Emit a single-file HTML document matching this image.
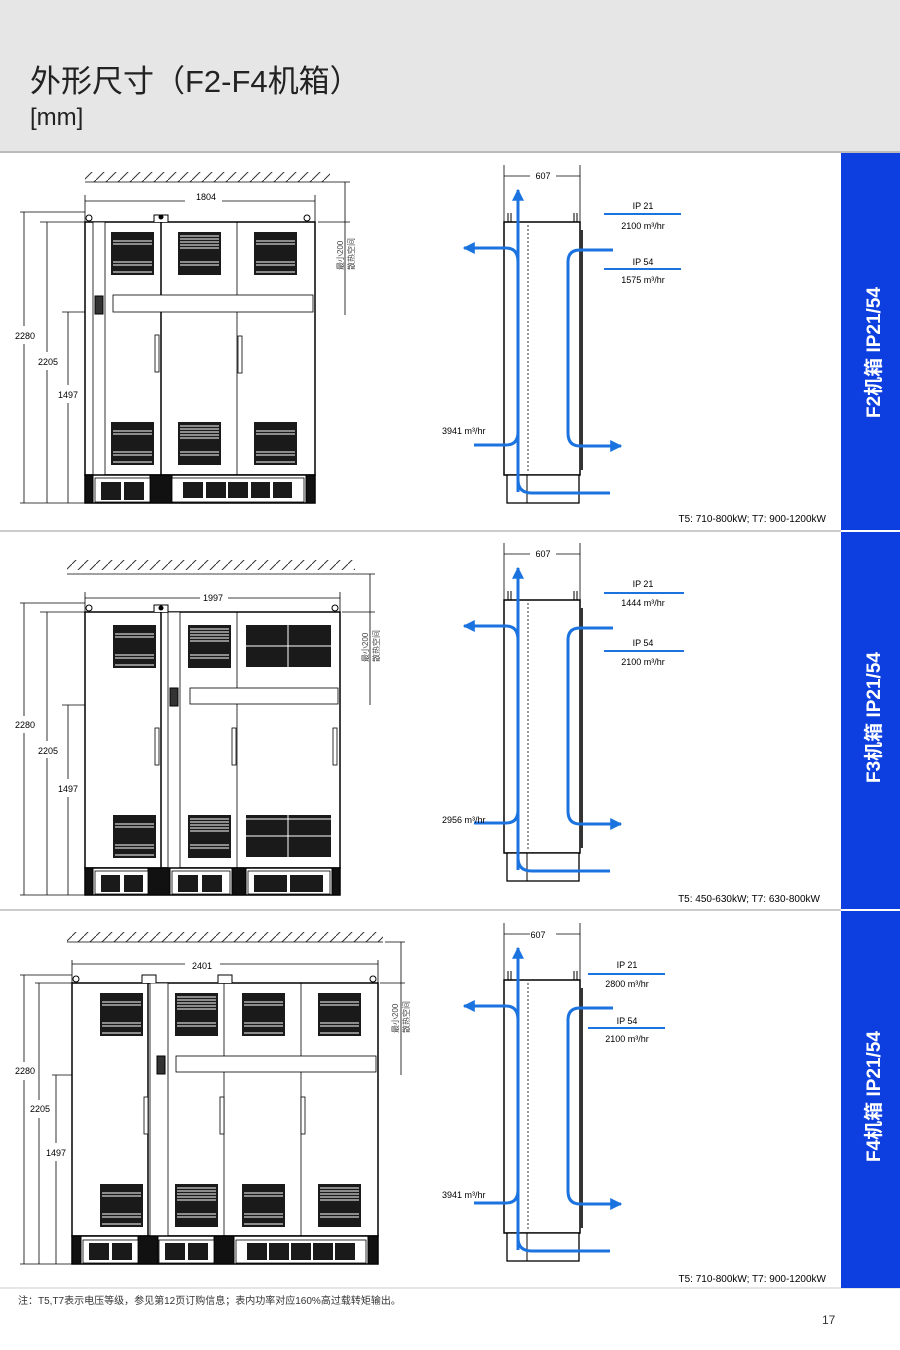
<!DOCTYPE html>
<html><head><meta charset="utf-8"><style>
html,body{margin:0;padding:0;background:#fff}
svg{display:block;font-family:"Liberation Sans","Noto Sans CJK SC",sans-serif}
</style></head><body>
<svg width="900" height="1350" viewBox="0 0 900 1350" xmlns="http://www.w3.org/2000/svg">
<defs>
<g id="vent"><rect x="0" y="0" width="43" height="43" fill="#1a1a1a"/><path d="M2 9H41M2 12H41M2 30H41M2 33H41M2 40H41" stroke="#fff" stroke-width="1"/></g>
<g id="vent2"><rect x="0" y="0" width="43" height="43" fill="#1a1a1a"/><path d="M2 4H41M2 7H41M2 10H41M2 13H41M2 16H41M2 30H41M2 33H41" stroke="#fff" stroke-width="1"/></g>
<pattern id="hatch" width="12" height="12" patternUnits="userSpaceOnUse"><path d="M0 12L12 0" stroke="#333" stroke-width="1"/></pattern>
<marker id="ar" viewBox="0 0 10 10" refX="9" refY="5" markerWidth="4" markerHeight="4" orient="auto"><path d="M0 0L10 5L0 10z" fill="#1b73e0"/></marker>
<g id="side">
 <line x1="504" y1="165" x2="504" y2="222" stroke="#000" stroke-width="0.8"/>
 <line x1="580" y1="165" x2="580" y2="222" stroke="#000" stroke-width="0.8"/>
 <line x1="504" y1="176" x2="530" y2="176" stroke="#000" stroke-width="0.8"/>
 <line x1="556" y1="176" x2="580" y2="176" stroke="#000" stroke-width="0.8"/>
 <rect x="504" y="222" width="76" height="253" fill="#fff" stroke="#000" stroke-width="1.5"/>
 <line x1="528" y1="225" x2="528" y2="472" stroke="#000" stroke-dasharray="2,2" stroke-width="0.8"/>
 <rect x="507" y="475" width="72" height="28" fill="#fff" stroke="#000" stroke-width="1.3"/>
 <line x1="527" y1="475" x2="527" y2="503" stroke="#000"/>
 <path d="M508 213V222M511 213V222M574 213V222M577 213V222" stroke="#000"/>
 <rect x="580" y="230" width="3" height="240" fill="#333"/>
 <g stroke="#1b73e0" stroke-width="3" fill="none">
  <path d="M518 492V190" marker-end="url(#ar)"/>
  <path d="M474 445H506Q518 445 518 432V262Q518 248 506 248H464" marker-end="url(#ar)"/>
  <path d="M518 480Q518 493 532 493H610"/>
  <path d="M613 250H580Q568 250 568 262V433Q568 446 580 446H621" marker-end="url(#ar)"/>
 </g>
</g>
</defs>

<!-- header -->
<rect x="0" y="0" width="900" height="151" fill="#e6e6e6"/>
<text x="30" y="92" font-size="31" fill="#222">外形尺寸（<tspan>F2-F4</tspan>机箱）</text>
<text x="30" y="125" font-size="24" fill="#222">[mm]</text>
<line x1="0" y1="152" x2="900" y2="152" stroke="#bbb" stroke-width="2"/>
<line x1="0" y1="531" x2="841" y2="531" stroke="#ccc" stroke-width="2"/>
<line x1="0" y1="910" x2="841" y2="910" stroke="#ccc" stroke-width="2"/>
<line x1="0" y1="1288" x2="900" y2="1288" stroke="#ccc" stroke-width="1"/>

<!-- sidebar -->
<rect x="841" y="153" width="59" height="1135" fill="#0d3fe0"/>
<rect x="841" y="530" width="59" height="2" fill="#fff"/>
<rect x="841" y="909" width="59" height="2" fill="#fff"/>
<g fill="#fff" font-size="19" font-weight="bold">
<text transform="translate(880,418) rotate(-90)">F2机箱  IP21/54</text>
<text transform="translate(880,783) rotate(-90)">F3机箱  IP21/54</text>
<text transform="translate(880,1162) rotate(-90)">F4机箱  IP21/54</text>
</g>

<!-- ================= F2 ================= -->
<g stroke="#000" fill="none" stroke-width="0.8">
<rect x="85" y="172" width="245" height="10" fill="url(#hatch)" stroke="none"/>
<line x1="85" y1="182" x2="330" y2="182"/>
<line x1="85" y1="201" x2="185" y2="201"/><line x1="222" y1="201" x2="315" y2="201"/>
<line x1="85" y1="195" x2="85" y2="222"/><line x1="315" y1="195" x2="315" y2="222"/>
<line x1="330" y1="182" x2="350" y2="182"/><line x1="318" y1="222" x2="350" y2="222"/>
<line x1="345" y1="182" x2="345" y2="315"/>
<line x1="20" y1="212" x2="85" y2="212"/><line x1="40" y1="222" x2="85" y2="222"/><line x1="62" y1="312" x2="95" y2="312"/>
<line x1="24" y1="212" x2="24" y2="326"/><line x1="24" y1="344" x2="24" y2="503"/>
<line x1="47" y1="222" x2="47" y2="352"/><line x1="47" y1="370" x2="47" y2="503"/>
<line x1="68" y1="312" x2="68" y2="385"/><line x1="68" y1="403" x2="68" y2="503"/>
<line x1="20" y1="503" x2="85" y2="503"/>
</g>
<g font-size="9" fill="#000">
<text x="206" y="200" text-anchor="middle">1804</text>
<text x="15" y="339">2280</text><text x="38" y="365">2205</text><text x="58" y="398">1497</text>
</g>
<g font-size="8" fill="#444"><text transform="translate(343,270) rotate(-90)">最小200</text><text transform="translate(354,270) rotate(-90)">散热空间</text></g>
<g stroke="#000" fill="#fff">
<rect x="85" y="222" width="230" height="253" stroke-width="1.5"/>
<rect x="93" y="222" width="12" height="253" stroke-width="0.8"/>
<line x1="161" y1="222" x2="161" y2="475" stroke-width="1.5"/>
<line x1="237" y1="222" x2="237" y2="475" stroke-width="0.8"/>
<rect x="113" y="295" width="200" height="17" stroke-width="0.8"/>
<rect x="95" y="296" width="8" height="18" fill="#333"/>
<rect x="155" y="335" width="4" height="37" stroke-width="0.8"/>
<rect x="238" y="336" width="4" height="37" stroke-width="0.8"/>
<rect x="85" y="475" width="230" height="28" stroke-width="1.5"/>
<rect x="85" y="475" width="8" height="28" fill="#111"/><rect x="150" y="475" width="22" height="28" fill="#111"/><rect x="306" y="475" width="9" height="28" fill="#111"/>
<rect x="95" y="478" width="55" height="24" stroke-width="0.8"/><rect x="172" y="478" width="132" height="24" stroke-width="0.8"/>
<circle cx="89" cy="218" r="3"/><circle cx="307" cy="218" r="3"/><path d="M154 222v-7h14v7" /><circle cx="161" cy="217" r="2" fill="#000"/>
</g>
<g fill="#1a1a1a"><rect x="101" y="482" width="20" height="18"/><rect x="124" y="482" width="20" height="18"/>
<rect x="183" y="482" width="20" height="16"/><rect x="206" y="482" width="20" height="16"/><rect x="228" y="482" width="20" height="16"/><rect x="251" y="482" width="19" height="16"/><rect x="273" y="482" width="19" height="16"/></g>
<use href="#vent" x="111" y="232"/><use href="#vent2" x="178" y="232"/><use href="#vent" x="254" y="232"/>
<use href="#vent" x="111" y="422"/><use href="#vent2" x="178" y="422"/><use href="#vent" x="254" y="422"/>

<use href="#side"/>
<g font-size="9" fill="#000">
<text x="543" y="179" text-anchor="middle">607</text>
<text x="643" y="209" text-anchor="middle">IP 21</text><text x="643" y="229" text-anchor="middle">2100 m³/hr</text>
<text x="643" y="265" text-anchor="middle">IP 54</text><text x="643" y="283" text-anchor="middle">1575 m³/hr</text>
<text x="442" y="434">3941 m³/hr</text>
<text x="826" y="522" text-anchor="end" font-size="10">T5: 710-800kW; T7: 900-1200kW</text>
</g>
<path d="M604 214H681M604 269H681" stroke="#1b73e0" stroke-width="2"/>

<!-- ================= F3 ================= -->
<g stroke="#000" fill="none" stroke-width="0.8">
<rect x="67" y="560" width="288" height="10" fill="url(#hatch)" stroke="none"/>
<line x1="67" y1="574" x2="355" y2="574"/>
<line x1="85" y1="598" x2="200" y2="598"/><line x1="228" y1="598" x2="340" y2="598"/>
<line x1="85" y1="592" x2="85" y2="612"/><line x1="340" y1="592" x2="340" y2="612"/>
<line x1="355" y1="574" x2="375" y2="574"/><line x1="342" y1="612" x2="375" y2="612"/>
<line x1="370" y1="574" x2="370" y2="705"/>
<line x1="20" y1="603" x2="85" y2="603"/><line x1="40" y1="612" x2="85" y2="612"/><line x1="62" y1="705" x2="172" y2="705"/>
<line x1="24" y1="603" x2="24" y2="716"/><line x1="24" y1="733" x2="24" y2="895"/>
<line x1="47" y1="612" x2="47" y2="741"/><line x1="47" y1="758" x2="47" y2="895"/>
<line x1="68" y1="705" x2="68" y2="779"/><line x1="68" y1="797" x2="68" y2="895"/>
<line x1="20" y1="895" x2="85" y2="895"/>
</g>
<g font-size="9" fill="#000">
<text x="213" y="601" text-anchor="middle">1997</text>
<text x="15" y="728">2280</text><text x="38" y="754">2205</text><text x="58" y="792">1497</text>
</g>
<g font-size="8" fill="#444"><text transform="translate(368,662) rotate(-90)">最小200</text><text transform="translate(379,662) rotate(-90)">散热空间</text></g>
<g stroke="#000" fill="#fff">
<rect x="85" y="612" width="255" height="256" stroke-width="1.5"/>
<line x1="161" y1="612" x2="161" y2="868" stroke-width="1.5"/>
<rect x="168" y="612" width="12" height="256" stroke-width="0.8"/>
<line x1="237" y1="612" x2="237" y2="868" stroke-width="0.8"/>
<rect x="190" y="688" width="148" height="16" stroke-width="0.8"/>
<rect x="170" y="688" width="8" height="18" fill="#333"/>
<rect x="155" y="728" width="4" height="37" stroke-width="0.8"/>
<rect x="232" y="728" width="4" height="37" stroke-width="0.8"/>
<rect x="333" y="728" width="4" height="37" stroke-width="0.8"/>
<rect x="85" y="868" width="255" height="27" stroke-width="1.5"/>
<rect x="85" y="868" width="8" height="27" fill="#111"/><rect x="148" y="868" width="22" height="27" fill="#111"/><rect x="232" y="868" width="14" height="27" fill="#111"/><rect x="332" y="868" width="8" height="27" fill="#111"/>
<rect x="95" y="871" width="53" height="23" stroke-width="0.8"/><rect x="172" y="871" width="58" height="23" stroke-width="0.8"/><rect x="248" y="871" width="82" height="23" stroke-width="0.8"/>
<circle cx="89" cy="608" r="3"/><circle cx="335" cy="608" r="3"/><path d="M154 612v-7h14v7"/><circle cx="161" cy="608" r="2" fill="#000"/>
</g>
<g fill="#1a1a1a"><rect x="101" y="875" width="19" height="17"/><rect x="124" y="875" width="19" height="17"/><rect x="178" y="875" width="20" height="17"/><rect x="202" y="875" width="20" height="17"/><rect x="254" y="875" width="33" height="17"/><rect x="290" y="875" width="33" height="17"/></g>
<use href="#vent" x="113" y="625"/><use href="#vent2" x="188" y="625"/>
<rect x="246" y="625" width="85" height="42" fill="#1a1a1a"/><path d="M246 646H331M288 625V667" stroke="#fff"/>
<use href="#vent" x="113" y="815"/><use href="#vent2" x="188" y="815"/>
<rect x="246" y="815" width="85" height="42" fill="#1a1a1a"/><path d="M246 836H331M288 815V857M246 819H331" stroke="#fff"/>

<use href="#side" transform="translate(0,378)"/>
<g font-size="9" fill="#000">
<text x="543" y="557" text-anchor="middle">607</text>
<text x="643" y="587" text-anchor="middle">IP 21</text><text x="643" y="606" text-anchor="middle">1444 m³/hr</text>
<text x="643" y="646" text-anchor="middle">IP 54</text><text x="643" y="665" text-anchor="middle">2100 m³/hr</text>
<text x="442" y="823">2956 m³/hr</text>
<text x="820" y="902" text-anchor="end" font-size="10">T5: 450-630kW; T7: 630-800kW</text>
</g>
<path d="M604 593H684M604 651H684" stroke="#1b73e0" stroke-width="2"/>

<!-- ================= F4 ================= -->
<g stroke="#000" fill="none" stroke-width="0.8">
<rect x="67" y="932" width="316" height="10" fill="url(#hatch)" stroke="none"/>
<line x1="67" y1="942" x2="383" y2="942"/>
<line x1="72" y1="964" x2="185" y2="964"/><line x1="220" y1="964" x2="378" y2="964"/>
<line x1="72" y1="960" x2="72" y2="983"/><line x1="378" y1="960" x2="378" y2="983"/>
<line x1="385" y1="942" x2="405" y2="942"/><line x1="380" y1="983" x2="405" y2="983"/>
<line x1="401" y1="942" x2="401" y2="1075"/>
<line x1="20" y1="975" x2="72" y2="975"/><line x1="35" y1="983" x2="72" y2="983"/><line x1="52" y1="1075" x2="160" y2="1075"/>
<line x1="24" y1="975" x2="24" y2="1062"/><line x1="24" y1="1080" x2="24" y2="1264"/>
<line x1="39" y1="983" x2="39" y2="1100"/><line x1="39" y1="1118" x2="39" y2="1264"/>
<line x1="56" y1="1075" x2="56" y2="1143"/><line x1="56" y1="1161" x2="56" y2="1264"/>
<line x1="20" y1="1264" x2="72" y2="1264"/>
</g>
<g font-size="9" fill="#000">
<text x="202" y="969" text-anchor="middle">2401</text>
<text x="15" y="1074">2280</text><text x="30" y="1112">2205</text><text x="46" y="1156">1497</text>
</g>
<g font-size="8" fill="#444"><text transform="translate(398,1033) rotate(-90)">最小200</text><text transform="translate(409,1033) rotate(-90)">散热空间</text></g>
<g stroke="#000" fill="#fff">
<rect x="72" y="983" width="306" height="253" stroke-width="1.5"/>
<line x1="148" y1="983" x2="148" y2="1236" stroke-width="1.5"/>
<rect x="150" y="983" width="18" height="253" stroke-width="0.8"/>
<line x1="224" y1="983" x2="224" y2="1236" stroke-width="0.8"/>
<line x1="301" y1="983" x2="301" y2="1236" stroke-width="0.8"/>
<rect x="176" y="1056" width="200" height="16" stroke-width="0.8"/>
<rect x="157" y="1056" width="8" height="18" fill="#333"/>
<rect x="144" y="1097" width="4" height="37" stroke-width="0.8"/>
<rect x="220" y="1097" width="4" height="37" stroke-width="0.8"/>
<rect x="301" y="1097" width="4" height="37" stroke-width="0.8"/>
<rect x="72" y="1236" width="306" height="28" stroke-width="1.5"/>
<rect x="72" y="1236" width="9" height="28" fill="#111"/><rect x="138" y="1236" width="20" height="28" fill="#111"/><rect x="214" y="1236" width="20" height="28" fill="#111"/><rect x="368" y="1236" width="10" height="28" fill="#111"/>
<rect x="83" y="1240" width="55" height="23" stroke-width="0.8"/><rect x="159" y="1240" width="55" height="23" stroke-width="0.8"/><rect x="236" y="1240" width="130" height="23" stroke-width="0.8"/>
<circle cx="76" cy="979" r="3"/><circle cx="373" cy="979" r="3"/><path d="M142 983v-8h14v8M218 983v-8h14v8"/>
</g>
<g fill="#1a1a1a"><rect x="89" y="1243" width="20" height="17"/><rect x="112" y="1243" width="20" height="17"/><rect x="165" y="1243" width="20" height="17"/><rect x="188" y="1243" width="20" height="17"/>
<rect x="247" y="1243" width="20" height="17"/><rect x="269" y="1243" width="20" height="17"/><rect x="291" y="1243" width="20" height="17"/><rect x="313" y="1243" width="20" height="17"/><rect x="335" y="1243" width="20" height="17"/></g>
<use href="#vent" x="100" y="993"/><use href="#vent2" x="175" y="993"/><use href="#vent" x="242" y="993"/><use href="#vent" x="318" y="993"/>
<use href="#vent" x="100" y="1184"/><use href="#vent2" x="175" y="1184"/><use href="#vent" x="242" y="1184"/><use href="#vent2" x="318" y="1184"/>

<use href="#side" transform="translate(0,758)"/>
<g font-size="9" fill="#000">
<text x="538" y="938" text-anchor="middle">607</text>
<text x="627" y="968" text-anchor="middle">IP 21</text><text x="627" y="987" text-anchor="middle">2800 m³/hr</text>
<text x="627" y="1024" text-anchor="middle">IP 54</text><text x="627" y="1042" text-anchor="middle">2100 m³/hr</text>
<text x="442" y="1198">3941 m³/hr</text>
<text x="826" y="1282" text-anchor="end" font-size="10">T5: 710-800kW; T7: 900-1200kW</text>
</g>
<path d="M588 974H665M588 1028H665" stroke="#1b73e0" stroke-width="2"/>

<!-- footer -->
<text x="18" y="1304" font-size="10" fill="#333">注：T5,T7表示电压等级，参见第12页订购信息；表内功率对应160%高过载转矩输出。</text>
<text x="822" y="1324" font-size="12" fill="#333">17</text>
</svg>
</body></html>
